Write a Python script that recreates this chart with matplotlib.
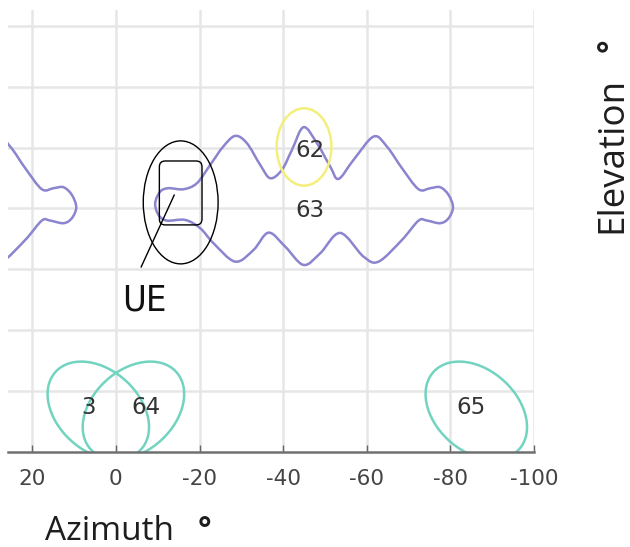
import numpy as np
import matplotlib
matplotlib.use("Agg")
import matplotlib.pyplot as plt
from matplotlib.path import Path
from matplotlib.patches import PathPatch, Ellipse, FancyBboxPatch

# =============================================================================
# Data (azimuth / elevation in degrees)
# =============================================================================
az_ticks = [20, 0, -20, -40, -60, -80, -100]
az_tick_labels = ['20', '0', '-20', '-40', '-60', '-80', '-100']
el_grid = [10, 20, 30, 40, 50, 60, 70]

# contour of beam 63 (closed, clockwise from the left tip)
beam63_az = [-9.40, -10.60, -12.58, -16.17, -19.38, -22.56, -25.67, -28.54, -31.34,
             -34.52, -36.91, -39.71, -42.11, -44.88, -48.09, -51.27, -53.25, -56.84,
             -61.63, -64.83, -68.42, -72.39, -75.19, -77.58, -79.57, -80.62,
             -79.57, -77.58, -74.40, -72.39, -68.42, -62.82, -59.23, -53.66, -48.88,
             -44.88, -40.50, -36.51, -32.92, -28.54, -23.35, -20.17, -16.58, -12.20,
             -10.19]
beam63_el = [40.86, 42.77, 43.33, 43.16, 44.15, 47.16, 50.16, 51.92, 50.72,
             47.16, 44.97, 46.34, 49.62, 53.35, 50.72, 46.88, 44.86, 47.98,
             51.81, 50.16, 46.62, 43.16, 43.33, 43.49, 42.23, 40.21,
             38.40, 37.58, 38.01, 38.01, 34.83, 31.27, 32.09, 35.98, 32.65,
             30.73, 33.73, 36.03, 33.19, 31.27, 34.29, 36.76, 38.12, 38.01,
             38.94]

# right end of the neighbouring contour, cut by the left edge
edge_az = [33.26, 28.47, 25.27, 21.68, 17.71, 14.91, 12.52, 10.53, 9.48,
           10.53, 12.52, 15.70, 17.71, 21.68, 27.28, 30.87, 36.44]
edge_el = [47.98, 51.81, 50.16, 46.62, 43.16, 43.33, 43.49, 42.23, 40.21,
           38.40, 37.58, 38.01, 38.01, 34.83, 31.27, 32.09, 35.98]

# low elevation beams 3, 64, 65 (centre, width, height, tilt)
low_az = [4.2, -4.2, -86.2]
low_el = [6.8, 6.8, 6.8]
low_w = [25.2, 25.2, 25.2]
low_h = [14.6, 14.6, 14.6]
low_ang = [19.3, -19.3, 19.3]

# beam 62
b62_az, b62_el, b62_w, b62_h = -45.0, 50.1, 13.1, 12.7

# UE marking
ue_az, ue_el, ue_w, ue_h = -15.5, 41.0, 17.9, 20.2
ue_box_az = [-20.6, -10.4]
ue_box_el = [37.3, 47.8]
ue_line_az = [-13.95, -6.05]
ue_line_el = [42.2, 30.4]
ue_text_az, ue_text_el = -1.5, 23.3

# beam labels
label_text = ['62', '63', '3', '64', '65']
label_az = [-46.4, -46.5, 6.5, -7.25, -84.9]
label_el = [48.5, 38.6, 6.24, 6.24, 6.24]

purple = '#8b84cf'
teal = '#72d4c0'
yellow = '#f4ef7c'


def smooth_path(xs, ys, closed):
    # Catmull-Rom through the read points, drawn as cubic bezier
    pts = np.column_stack([xs, ys])
    if closed:
        ext = np.vstack([pts[-1], pts, pts[0], pts[1]])
    else:
        ext = np.vstack([pts[0], pts, pts[-1]])
    verts = [ext[1]]
    codes = [Path.MOVETO]
    for i in range(1, len(ext) - 2):
        p0, p1, p2, p3 = ext[i - 1], ext[i], ext[i + 1], ext[i + 2]
        verts += [p1 + (p2 - p0) / 6, p2 - (p3 - p1) / 6, p2]
        codes += [Path.CURVE4] * 3
    return Path(verts, codes)


# =============================================================================
# Plot
# =============================================================================
fig = plt.figure(figsize=(6.3, 5.47), dpi=100)
ax = fig.add_axes([8 / 630, 1 - 452 / 547, 526 / 630, 442 / 547])
ax.set_xlim(25.8, -100)
ax.set_ylim(0, 72.6)

ax.set_xticks(az_ticks)
ax.set_xticklabels(az_tick_labels)
ax.set_yticks(el_grid)
ax.tick_params(axis='y', length=0, labelleft=False)
ax.tick_params(axis='x', direction='in', length=5, width=1, color='#666666',
               labelsize=15.5, labelcolor='#444444', pad=12)
ax.grid(True, color='#e6e6e6', lw=1.8)
ax.set_axisbelow(True)
for s in ['top', 'left', 'right']:
    ax.spines[s].set_visible(False)
ax.spines['bottom'].set_color('#707070')
ax.spines['bottom'].set_linewidth(1.8)

ax.add_patch(PathPatch(smooth_path(beam63_az, beam63_el, True), fill=False,
                       edgecolor=purple, lw=1.8))
ax.add_patch(PathPatch(smooth_path(edge_az, edge_el, False), fill=False,
                       edgecolor=purple, lw=1.8))

for i in range(len(low_az)):
    ax.add_patch(Ellipse((low_az[i], low_el[i]), low_w[i], low_h[i], angle=low_ang[i],
                         fill=False, edgecolor=teal, lw=1.8))

ax.add_patch(Ellipse((b62_az, b62_el), b62_w, b62_h, fill=False, edgecolor=yellow, lw=1.8))

# UE
ax.add_patch(Ellipse((ue_az, ue_el), ue_w, ue_h, fill=False, edgecolor='black', lw=1.0))
ax.add_patch(FancyBboxPatch((ue_box_az[0], ue_box_el[0]), ue_box_az[1] - ue_box_az[0],
                            ue_box_el[1] - ue_box_el[0],
                            boxstyle="round,pad=0,rounding_size=1.4", mutation_aspect=0.69,
                            fill=False, edgecolor='black', lw=1.0))
ax.plot(ue_line_az, ue_line_el, color='black', lw=1.0)
ax.text(ue_text_az, ue_text_el, 'UE', fontsize=26, color='#111111', ha='left', va='baseline',
        family=['Liberation Sans Narrow', 'DejaVu Sans'], fontstretch='condensed')

for t, x, y in zip(label_text, label_az, label_el):
    ax.text(x, y, t, fontsize=16.5, color='#333333', ha='center', va='baseline')

# axis titles
fig.text(45 / 630, 1 - 540 / 547, 'Azimuth', fontsize=24, color='#1e1e1e',
         family=['Open Sans', 'DejaVu Sans'], ha='left', va='baseline')
fig.text(198 / 630, 1 - 540 / 547, '°', fontsize=23, fontweight='bold', color='#1e1e1e',
         family=['Open Sans', 'DejaVu Sans'], ha='left', va='baseline')
fig.text(621 / 630, 1 - 233 / 547, 'Elevation', fontsize=26.5, color='#1e1e1e', rotation=90,
         rotation_mode='anchor', family=['Open Sans', 'DejaVu Sans'], ha='left', va='baseline')
fig.text(621 / 630, 1 - 52 / 547, '°', fontsize=23, fontweight='bold', color='#1e1e1e',
         rotation=90, rotation_mode='anchor', family=['Open Sans', 'DejaVu Sans'],
         ha='left', va='baseline')

fig.savefig('out.png', dpi=100)
